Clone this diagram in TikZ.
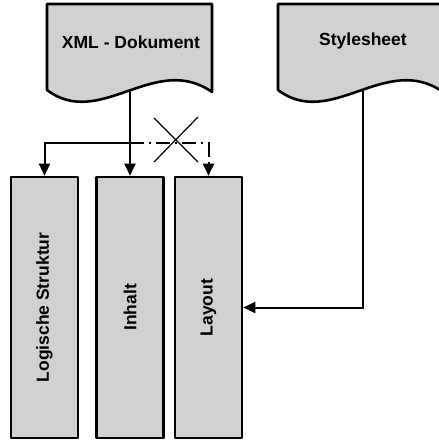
\documentclass[tikz,border=0pt]{standalone}
\usepackage{fontspec}
\usepackage{graphicx}
\setmainfont{Liberation Sans}
\usetikzlibrary{arrows.meta,calc}
\begin{document}
\begin{tikzpicture}[x=1pt,y=-1pt,
  shapefill/.style={fill=black!18, draw=black, line width=2.6pt, line join=round},
  box/.style={shapefill, rectangle, minimum width=67pt, minimum height=261pt, inner sep=0pt,
    font=\fontsize{17.5}{19}\selectfont\bfseries},
  doclabel/.style={font=\fontsize{17.5}{19}\selectfont\bfseries, inner sep=0pt},
  conn/.style={draw=black, line width=2pt, -{Triangle[length=12pt,width=11pt]}},
  cross/.style={draw=black, line width=1.2pt}]
\useasboundingbox (0,0) rectangle (439,440);
\clip (0,0) rectangle (439,440);

% document shapes
\draw[shapefill] (47,4) -- (212,4) -- (212,92)
  .. controls (155,52) and (100,130) .. (47,90) -- cycle;
\node[doclabel] (xml) at (131,42) {XML - Dokument};
\coordinate (xmlb) at (130,91);

\draw[shapefill] (278,4) -- (443,4) -- (443,92)
  .. controls (386,52) and (331,130) .. (278,90) -- cycle;
\node[doclabel] (ss) at (363,41) {Stylesheet};
\coordinate (ssb) at (363,90);

% boxes
\node[box] (ls) at (44.5,307.5) {\rotatebox{90}{Logische Struktur}};
\node[box] (inh) at (130,307.5) {\rotatebox{90}{Inhalt}};
\node[box] (lay) at (208.5,307.5) {\rotatebox{90}{Layout}};

% connectors
\coordinate (jn) at (130,143);
\draw[conn] (xmlb) -- (inh.north);
\draw[conn] (jn) -| (ls.north);
\draw[conn, dash pattern=on 14pt off 5pt on 2pt off 5pt] (jn) -| (lay.north);
\draw[conn] (ssb) |- (lay.east);

% cross over the dashed link
\coordinate (xc) at (176,140);
\draw[cross] ($(xc)+(-22,-22)$) -- ($(xc)+(22,22)$);
\draw[cross] ($(xc)+(22,-23)$) -- ($(xc)+(-22,22)$);
\end{tikzpicture}
\end{document}
